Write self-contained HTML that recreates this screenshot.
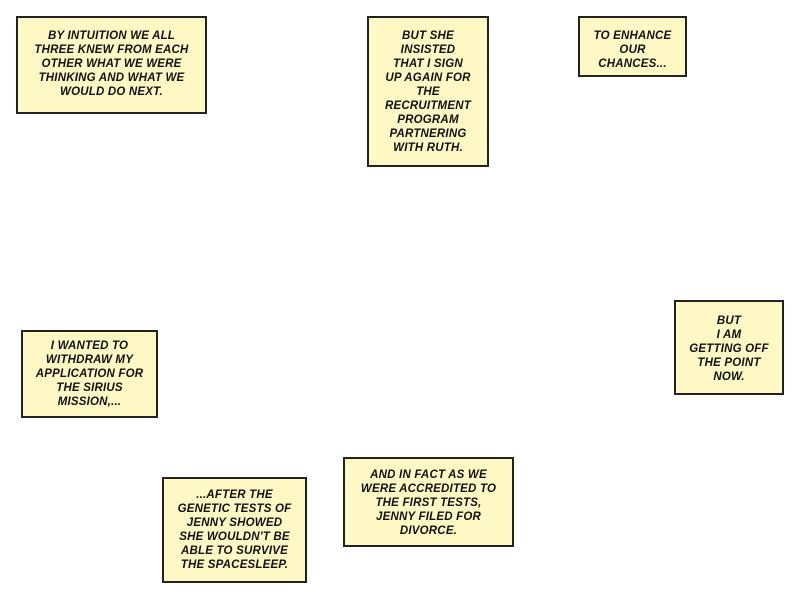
<!DOCTYPE html>
<html><head><style>
body{margin:0;width:800px;height:600px;background:#fff;position:relative;overflow:hidden}
.b{position:absolute;box-sizing:border-box;background:#fef8c4;border:2px solid #222;}
.t{position:absolute;left:0;right:0;text-align:center;font-family:"Liberation Sans",sans-serif;font-weight:bold;font-style:italic;font-size:11.5px;line-height:14px;color:#111;text-transform:uppercase;letter-spacing:0.2px;white-space:nowrap}
</style></head><body>
<div class="b" style="left:16px;top:16px;width:191px;height:98px"><div class="t" style="top:11px">By intuition we all<br>three knew from each<br>other what we were<br>thinking and what we<br>would do next.</div></div>
<div class="b" style="left:367px;top:16px;width:122px;height:151px"><div class="t" style="top:11px">But she<br>insisted<br>that I sign<br>up again for<br>the<br>recruitment<br>program<br>partnering<br>with Ruth.</div></div>
<div class="b" style="left:578px;top:16px;width:109px;height:61px"><div class="t" style="top:11px">To enhance<br>our<br>chances...</div></div>
<div class="b" style="left:674px;top:300px;width:110px;height:95px"><div class="t" style="top:12px">But<br>I am<br>getting off<br>the point<br>now.</div></div>
<div class="b" style="left:21px;top:330px;width:137px;height:88px"><div class="t" style="top:7px">I wanted to<br>withdraw my<br>application for<br>the Sirius<br>mission,...</div></div>
<div class="b" style="left:162px;top:477px;width:145px;height:106px"><div class="t" style="top:9px">...after the<br>genetic tests of<br>Jenny showed<br>she wouldn't be<br>able to survive<br>the spacesleep.</div></div>
<div class="b" style="left:343px;top:457px;width:171px;height:90px"><div class="t" style="top:9px">And in fact as we<br>were accredited to<br>the first tests,<br>Jenny filed for<br>divorce.</div></div>
</body></html>
